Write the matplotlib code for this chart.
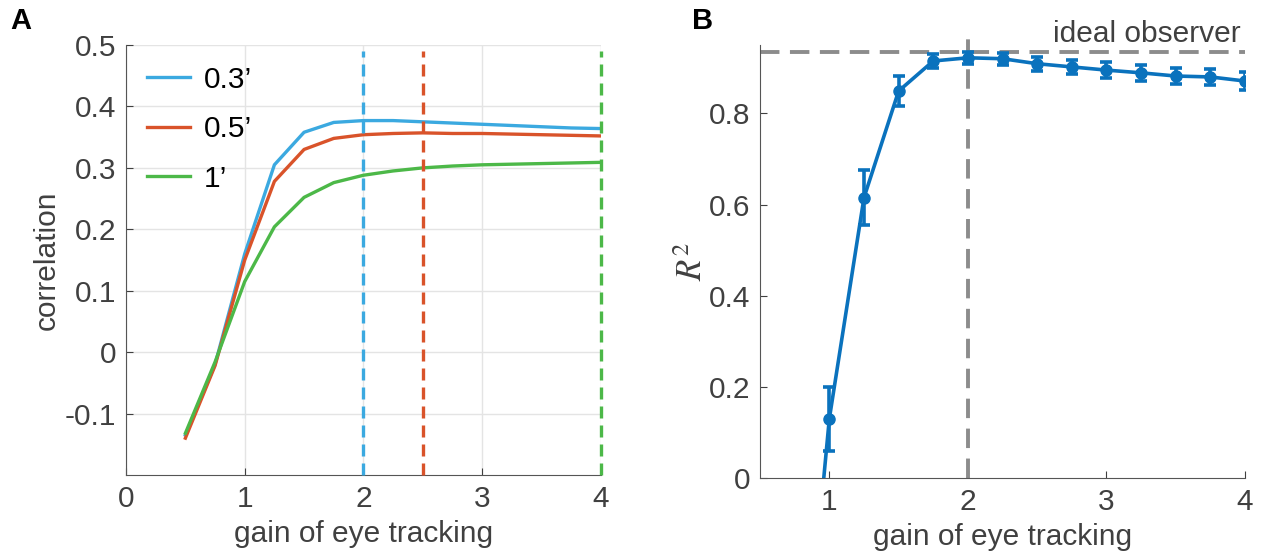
import numpy as np
import matplotlib
matplotlib.use("Agg")
import matplotlib.pyplot as plt

plt.rcParams['font.family'] = ['Liberation Sans', 'DejaVu Sans']
plt.rcParams['mathtext.fontset'] = 'stix'

# ---- data panel A ----
gain_a = [0.5, 0.75, 1.0, 1.25, 1.5, 1.75, 2.0, 2.25, 2.5, 2.75, 3.0, 3.25, 3.5, 3.75, 4.0]
corr_03 = [-0.135, -0.02, 0.16, 0.305, 0.358, 0.374, 0.377, 0.377, 0.375, 0.373, 0.371, 0.369, 0.367, 0.365, 0.364]
corr_05 = [-0.14, -0.022, 0.15, 0.278, 0.330, 0.348, 0.354, 0.356, 0.357, 0.356, 0.356, 0.355, 0.354, 0.353, 0.352]
corr_1 = [-0.132, -0.016, 0.115, 0.204, 0.252, 0.276, 0.288, 0.295, 0.300, 0.303, 0.305, 0.306, 0.307, 0.308, 0.309]
legend_labels = ["0.3\u2019", "0.5\u2019", "1\u2019"]
best_gain = [2.0, 2.5, 4.0]

# ---- data panel B ----
gain_b = [0.75, 1.0, 1.25, 1.5, 1.75, 2.0, 2.25, 2.5, 2.75, 3.0, 3.25, 3.5, 3.75, 4.0]
r2 = [-0.68, 0.13, 0.615, 0.849, 0.915, 0.922, 0.920, 0.909, 0.902, 0.895, 0.889, 0.882, 0.880, 0.871]
r2_err = [0.0, 0.07, 0.06, 0.033, 0.016, 0.013, 0.013, 0.015, 0.016, 0.017, 0.018, 0.018, 0.018, 0.02]
ideal = 0.934

colors = ["#3ba9e0", "#d9532a", "#4cb848"]
dark = "#404040"
fs = 21.5

fig = plt.figure(figsize=(12.68, 5.56), dpi=100)

# -------------------------------------------------
ax = fig.add_axes([0.0994, 0.1457, 0.3744, 0.7733])
for vals, c, lab in zip([corr_03, corr_05, corr_1], colors, legend_labels):
    ax.plot(gain_a, vals, color=c, lw=2.4, label=lab, zorder=3)
for g, c in zip(best_gain, colors):
    ax.plot([g, g], [-0.2, 0.49], color=c, lw=2.4, ls=(0, (3.6, 2.1)), zorder=4, clip_on=False)
ax.set_xlim(0, 4)
ax.set_ylim(-0.2, 0.5)
ax.set_xticks([0, 1, 2, 3, 4])
ax.set_yticks([-0.1, 0, 0.1, 0.2, 0.3, 0.4, 0.5])
ax.set_yticklabels(["-0.1", "0", "0.1", "0.2", "0.3", "0.4", "0.5"])
ax.grid(True, color="#e4e4e4", lw=1)
ax.set_axisbelow(True)
ax.spines['top'].set_visible(False)
ax.spines['right'].set_visible(False)
for s in ['left', 'bottom']:
    ax.spines[s].set_color("#555555")
ax.tick_params(direction='in', labelsize=fs, colors=dark, length=5, pad=7)
ax.set_xlabel("gain of eye tracking", fontsize=fs, color=dark, labelpad=5)
ax.set_ylabel("correlation", fontsize=fs, color=dark, labelpad=3)
ax.legend(loc='upper left', frameon=False, fontsize=fs, handlelength=1.45,
          handletextpad=0.45, labelspacing=0.72, borderaxespad=0.3, bbox_to_anchor=(0.0, 1.0))

# -------------------------------------------------
bx = fig.add_axes([0.5994, 0.1403, 0.3825, 0.7787])
bx.errorbar(gain_b, r2, yerr=r2_err, color="#0a72bd", lw=2.6, marker='o', ms=8,
            elinewidth=2.6, capsize=4, capthick=2.6, zorder=3)
bx.plot([2, 2], [0, 0.975], color="#8c8c8c", lw=2.8, ls=(0, (5, 2.7)), clip_on=False, zorder=2)
bx.axhline(ideal, color="#8c8c8c", lw=2.8, ls=(0, (5, 2.7)), zorder=2)
bx.text(3.97, 0.975, "ideal observer", ha='right', va='center', fontsize=fs, color=dark)
bx.set_xlim(0.5, 4)
bx.set_ylim(0, 0.95)
bx.set_xticks([1, 2, 3, 4])
bx.set_yticks([0, 0.2, 0.4, 0.6, 0.8])
bx.set_yticklabels(["0", "0.2", "0.4", "0.6", "0.8"])
bx.spines['top'].set_visible(False)
bx.spines['right'].set_visible(False)
for s in ['left', 'bottom']:
    bx.spines[s].set_color("#555555")
bx.tick_params(direction='in', labelsize=fs, colors=dark, length=5, pad=7)
bx.set_xlabel("gain of eye tracking", fontsize=fs, color=dark, labelpad=5)
bx.set_ylabel(r"$R^2$", fontsize=25, color=dark, labelpad=0)

fig.text(0.008, 0.962, "A", fontsize=21, fontweight='bold', va='center')
fig.text(0.546, 0.962, "B", fontsize=21, fontweight='bold', va='center')

fig.savefig("out.png", dpi=100)
